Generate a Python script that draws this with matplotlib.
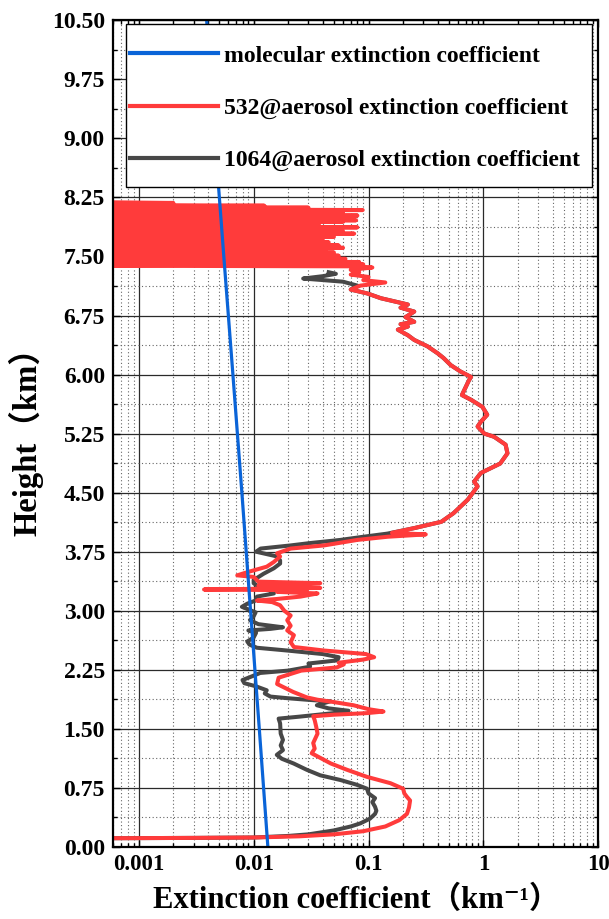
import numpy as np
import matplotlib
matplotlib.use("Agg")
from matplotlib import pyplot as plt
from matplotlib.patches import Rectangle
from matplotlib.ticker import LogLocator, MultipleLocator, NullFormatter

plt.rcParams['font.family'] = ['Liberation Serif', 'Noto Sans CJK SC', 'DejaVu Serif']
plt.rcParams['font.weight'] = 'bold'

# molecular extinction (km^-1) vs height (km)
mol_h = [0.0, 1.5, 3.0, 4.5, 6.0, 7.5, 9.0, 10.5]
mol_x = [0.0133, 0.0112, 0.0094, 0.0079, 0.0066, 0.0055, 0.0046, 0.0039]

# 532 nm aerosol, lower boundary layer part
red_low_h = [0.110, 0.115, 0.120, 0.135, 0.160, 0.200, 0.260, 0.340, 0.420, 0.500, 0.590, 0.640, 0.680, 0.740,
             0.810, 0.890, 0.980, 1.060, 1.150, 1.190, 1.250, 1.320, 1.440, 1.530, 1.610, 1.660, 1.680, 1.700,
             1.720, 1.750, 1.800, 1.840, 1.870, 1.900, 1.970, 2.070, 2.150, 2.240, 2.280, 2.320, 2.340, 2.380,
             2.410, 2.450, 2.495, 2.540, 2.600, 2.690, 2.750, 2.810, 2.880, 2.940, 3.000, 3.070, 3.110, 3.130,
             3.150, 3.180, 3.220, 3.240, 3.260, 3.270, 3.290, 3.320, 3.350, 3.370, 3.430, 3.450, 3.490, 3.560,
             3.620, 3.690, 3.730, 3.790, 3.830, 3.900, 3.940, 3.970, 3.990]
red_low_x = [0.0004, 0.003, 0.010, 0.025, 0.050, 0.090, 0.140, 0.185, 0.216, 0.225, 0.230, 0.215, 0.205, 0.200,
             0.155, 0.097, 0.065, 0.047, 0.036, 0.032, 0.034, 0.033, 0.036, 0.035, 0.034, 0.033, 0.050, 0.097,
             0.135, 0.100, 0.074, 0.050, 0.036, 0.029, 0.022, 0.016, 0.0165, 0.026, 0.053, 0.061, 0.055, 0.090,
             0.112, 0.095, 0.041, 0.0224, 0.021, 0.0224, 0.0196, 0.021, 0.0196, 0.021, 0.0185, 0.017, 0.0145, 0.0107,
             0.016, 0.0256, 0.036, 0.016, 0.029, 0.0037, 0.038, 0.011, 0.038, 0.011, 0.010, 0.0072, 0.0088, 0.013,
             0.015, 0.017, 0.016, 0.021, 0.041, 0.080, 0.146, 0.315, 0.160]

# 1064 nm aerosol, lower part
grey_low_h = [0.110, 0.115, 0.120, 0.140, 0.160, 0.210, 0.260, 0.300, 0.360, 0.420, 0.460, 0.510, 0.570, 0.620,
              0.680, 0.740, 0.790, 0.850, 0.910, 0.980, 1.060, 1.120, 1.170, 1.230, 1.290, 1.360, 1.440, 1.570,
              1.630, 1.655, 1.700, 1.730, 1.760, 1.800, 1.850, 1.870, 1.890, 1.910, 1.950, 1.990, 2.040, 2.080,
              2.120, 2.160, 2.210, 2.240, 2.290, 2.330, 2.370, 2.410, 2.450, 2.495, 2.530, 2.570, 2.610, 2.660,
              2.720, 2.750, 2.770, 2.790, 2.830, 2.880, 2.930, 2.980, 3.050, 3.090, 3.130, 3.180, 3.220, 3.250,
              3.280, 3.320, 3.350, 3.390, 3.470, 3.540, 3.600, 3.640, 3.690, 3.720, 3.750, 3.790, 3.830, 3.860,
              3.900, 3.940, 3.980]
grey_low_x = [0.0004, 0.003, 0.010, 0.020, 0.030, 0.050, 0.070, 0.085, 0.103, 0.114, 0.117, 0.114, 0.108, 0.114,
              0.100, 0.097, 0.079, 0.057, 0.038, 0.029, 0.0223, 0.0176, 0.0159, 0.018, 0.0172, 0.018, 0.0172, 0.017,
              0.0165, 0.025, 0.0496, 0.067, 0.045, 0.0355, 0.0465, 0.029, 0.0195, 0.014, 0.0125, 0.013, 0.0105, 0.0083,
              0.0080, 0.0094, 0.0114, 0.020, 0.031, 0.030, 0.0535, 0.055, 0.040, 0.0196, 0.0107, 0.0092, 0.0088, 0.010,
              0.0105, 0.009, 0.014, 0.018, 0.011, 0.0093, 0.0100, 0.0104, 0.0079, 0.0088, 0.0104, 0.0107, 0.015, 0.014,
              0.0196, 0.0107, 0.010, 0.010, 0.0122, 0.015, 0.017, 0.017, 0.016, 0.013, 0.0105, 0.0115, 0.021, 0.031,
              0.057, 0.090, 0.146]

# elevated aerosol layer, both wavelengths overlap here
mid_h = [4.05, 4.13, 4.24, 4.41, 4.58, 4.64, 4.75, 4.87, 5.00, 5.11, 5.21, 5.25, 5.34, 5.40, 5.49, 5.59, 5.68,
         5.74, 5.80, 5.93, 5.97, 6.04, 6.12, 6.21, 6.27, 6.36, 6.44, 6.50, 6.57, 6.61, 6.64, 6.67, 6.73, 6.80,
         6.85, 6.89, 6.93, 6.97, 7.03, 7.08]
mid_x = [0.25, 0.43, 0.55, 0.73, 0.89, 0.83, 0.95, 1.40, 1.62, 1.56, 1.24, 1.02, 0.89, 0.95, 1.08, 0.98, 0.78,
         0.65, 0.68, 0.75, 0.78, 0.63, 0.52, 0.45, 0.40, 0.325, 0.25, 0.22, 0.18, 0.22, 0.19, 0.25, 0.21, 0.25,
         0.19, 0.22, 0.167, 0.128, 0.098, 0.070]

# 532 nm top: noisy signal above the layer
red_top_h = [7.13, 7.17, 7.20, 7.24, 7.27, 7.30, 7.33, 7.36, 7.375,
             7.385, 7.40, 7.415, 7.43, 7.45, 7.47, 7.49, 7.51, 7.53, 7.55, 7.56, 7.575, 7.59, 7.61, 7.625, 7.64,
             7.66, 7.68, 7.695, 7.71, 7.73, 7.75, 7.77, 7.79, 7.805, 7.82, 7.83, 7.84, 7.855, 7.87, 7.89, 7.91,
             7.925, 7.94, 7.95, 7.96, 7.975, 7.99, 8.005, 8.02, 8.035, 8.05, 8.07, 8.09, 8.105, 8.12, 8.13, 8.145,
             8.16, 8.18, 8.20]
red_top_x = [0.085, 0.14, 0.09, 0.10, 0.07, 0.083, 0.07, 0.108, 0.08,
             0.0001, 0.090, 0.0001, 0.083, 0.0001, 0.063, 0.0001, 0.055, 0.0001, 0.050, 0.0001, 0.042, 0.0001, 0.060,
             0.0001, 0.055, 0.0001, 0.045, 0.0001, 0.040, 0.0001, 0.050, 0.0001, 0.075, 0.0001, 0.060, 0.0001, 0.040,
             0.0001, 0.080, 0.0001, 0.037, 0.0001, 0.060, 0.0001, 0.078, 0.0001, 0.070, 0.0001, 0.080, 0.0001, 0.060,
             0.0001, 0.089, 0.0001, 0.030, 0.0001, 0.0124, 0.0001, 0.002, 0.0001]

# 1064 nm top end
grey_top_h = [7.13, 7.18, 7.22, 7.25, 7.28, 7.30]
grey_top_x = [0.080, 0.060, 0.027, 0.040, 0.052, 0.045]

red_h = red_low_h + mid_h + red_top_h
red_x = red_low_x + mid_x + red_top_x
grey_h = grey_low_h + mid_h + grey_top_h
grey_x = grey_low_x + mid_x + grey_top_x

yticks = np.arange(0, 10.51, 0.75)
xticks = [0.001, 0.01, 0.1, 1, 10]
xticklabels = ["0.001", "0.01", "0.1", "1", "10"]

fig = plt.figure(figsize=(6.09, 9.19), dpi=100)
ax = fig.add_axes([0.1860, 0.0784, 0.7964, 0.8995])

ax.plot(grey_x, grey_h, color="#474747", lw=2.9, zorder=3, label="1064@aerosol extinction coefficient")
ax.plot(red_x, red_h, color="#FF3B3B", lw=2.9, zorder=3.2, label="532@aerosol extinction coefficient")
ax.plot(mol_x, mol_h, color="#0A64D8", lw=2.3, zorder=3.4, label="molecular extinction coefficient")

ax.set_xscale("log")
ax.set_xlim(0.0006, 10)
ax.set_ylim(0, 10.5)
ax.set_xticks(xticks, labels=xticklabels)
ax.xaxis.set_minor_locator(LogLocator(base=10, subs=np.arange(2, 10), numticks=20))
ax.xaxis.set_minor_formatter(NullFormatter())
ax.set_yticks(yticks, labels=["%.2f" % v for v in yticks])
ax.yaxis.set_minor_locator(MultipleLocator(0.375))

ax.grid(which="major", color="#2a2a2a", lw=0.9, ls="-", zorder=1)
ax.grid(which="minor", color="#666666", lw=0.8, ls=(0, (1, 2.2)), zorder=1)
ax.set_axisbelow(True)

ax.tick_params(which="both", direction="in", top=True, right=True, width=1)
ax.tick_params(which="major", length=5)
ax.tick_params(which="minor", length=3)
ax.tick_params(axis="x", labelsize=16.5, pad=5)
ax.tick_params(axis="y", labelsize=17, pad=6)
for s in ax.spines.values():
    s.set_linewidth(1.6)
    s.set_zorder(6)

ax.set_xlabel("Extinction coefficient（km⁻¹）", fontsize=22, fontweight="bold", labelpad=8)
ax.set_ylabel("Height（km）", fontsize=23.5, fontweight="bold", labelpad=6)

# legend frame drawn separately so it can span most of the top
ax.add_patch(Rectangle((0.0253, 0.7985), 0.962, 0.197, transform=ax.transAxes,
                       fc="white", ec="black", lw=1.0, zorder=4.5))
handles, labels = ax.get_legend_handles_labels()
order = [2, 1, 0]
leg = ax.legend([handles[i] for i in order], [labels[i] for i in order],
                loc="upper left", bbox_to_anchor=(0.0253, 0.9758), borderaxespad=0,
                frameon=False, fontsize=17, handlelength=3.7, handletextpad=0.25,
                labelspacing=1.3, borderpad=0.2)
leg.set_zorder(5)
for line in leg.get_lines():
    line.set_linewidth(3)

fig.savefig("out.png", dpi=100)
